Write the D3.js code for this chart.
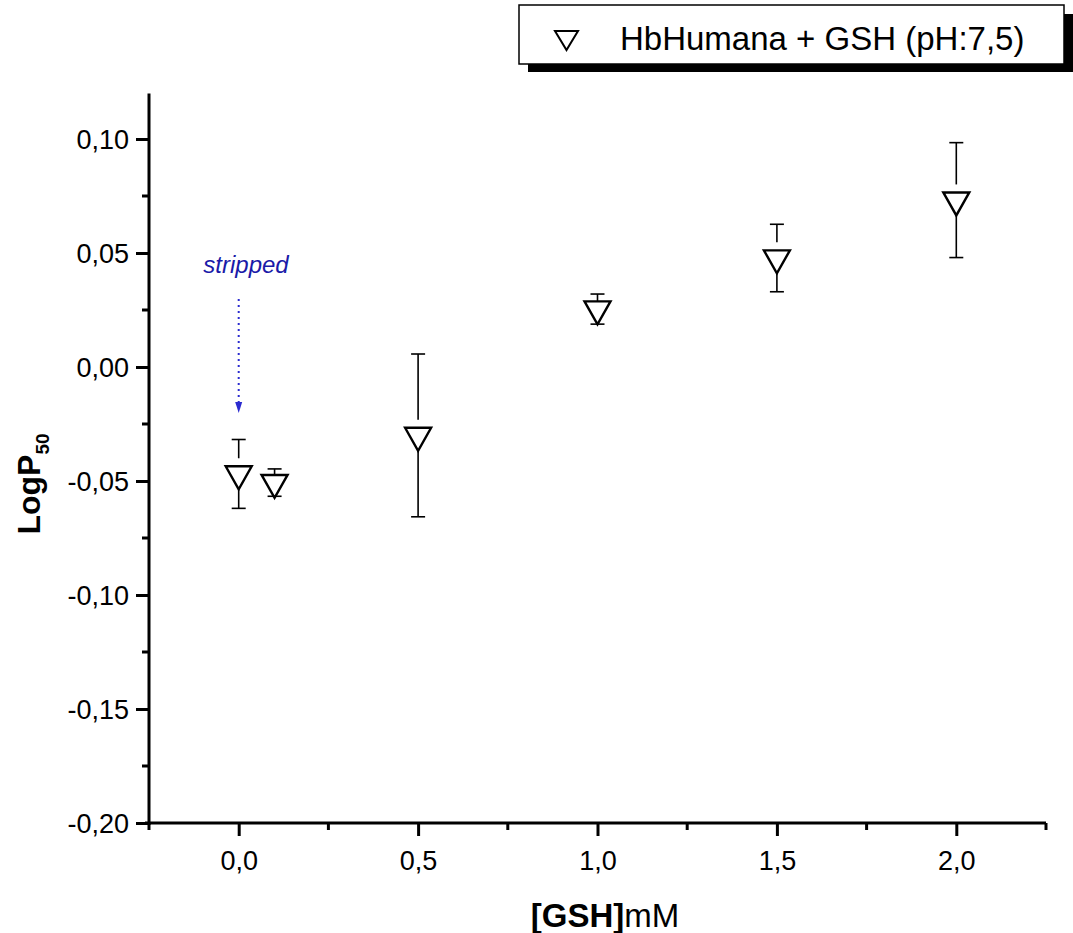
<!DOCTYPE html>
<html>
<head>
<meta charset="utf-8">
<script src="https://cdn.jsdelivr.net/npm/d3@7"></script>
<style>
  html, body { margin: 0; padding: 0; background: #fff; }
  svg { display: block; font-family: "Liberation Sans", Arial, sans-serif; }
</style>
</head>
<body>
<svg id="chart" width="1073" height="933"></svg>
<script>
// ---- data ----
const gsh = [0.0, 0.1, 0.5, 1.0, 1.5, 2.0];           // [GSH] mM
const logP50 = [-0.0469, -0.0507, -0.030, 0.0254, 0.0478, 0.0732];
const errLogP50 = [0.0151, 0.0060, 0.0357, 0.0066, 0.0148, 0.0252];
const xTickValues = [0, 0.5, 1.0, 1.5, 2.0];
const yTickValues = [0.10, 0.05, 0.00, -0.05, -0.10, -0.15, -0.20];
const legendLabel = "HbHumana + GSH (pH:7,5)";
const annotationLabel = "stripped";

const fmt = d => d3.format(".2f")(d).replace(".", ",").replace("−", "-");
const fmtX = d => d3.format(".1f")(d).replace(".", ",");

const svg = d3.select("#chart");
const x = d3.scaleLinear().domain([-0.25, 2.25]).range([149, 1046]);
const y = d3.scaleLinear().domain([-0.20, 0.10]).range([823, 139]);
const yTop = 0.12;

// ---- axes ----
const axisW = 3;
// Y axis
const yAxisMajor = d3.axisLeft(y).tickValues(yTickValues).tickSize(13).tickPadding(7).tickFormat(fmt);
const yMinor = d3.range(-0.175, 0.12, 0.05);
const gy = svg.append("g").attr("transform", `translate(${x.range()[0]},0)`);
gy.call(yAxisMajor);
gy.select(".domain").remove();
gy.selectAll(".tick line").attr("stroke", "#000").attr("stroke-width", 3);
gy.selectAll(".tick text").attr("font-size", 27).attr("fill", "#000")
  .attr("font-family", "'Liberation Sans', Arial, sans-serif").attr("dy", "0.36em");
gy.selectAll(".minor").data(yMinor).enter().append("line")
  .attr("x1", -7).attr("x2", 0).attr("y1", d => y(d)).attr("y2", d => y(d))
  .attr("stroke", "#000").attr("stroke-width", 3);
gy.append("line").attr("x1", 0).attr("x2", 0).attr("y1", y(yTop)).attr("y2", y(-0.20) + 2)
  .attr("stroke", "#000").attr("stroke-width", axisW);

// X axis
const xAxisMajor = d3.axisBottom(x).tickValues(xTickValues).tickSize(13).tickPadding(15).tickFormat(fmtX);
const xMinor = [-0.25, 0.25, 0.75, 1.25, 1.75, 2.25];
const gx = svg.append("g").attr("transform", `translate(0,${y(-0.20)})`);
gx.call(xAxisMajor);
gx.select(".domain").remove();
gx.selectAll(".tick line").attr("stroke", "#000").attr("stroke-width", 3);
gx.selectAll(".tick text").attr("font-size", 27).attr("fill", "#000")
  .attr("font-family", "'Liberation Sans', Arial, sans-serif");
gx.selectAll(".minor").data(xMinor).enter().append("line")
  .attr("x1", d => x(d)).attr("x2", d => x(d)).attr("y1", 0).attr("y2", 7)
  .attr("stroke", "#000").attr("stroke-width", 3);
gx.append("line").attr("x1", x.range()[0] - 4).attr("x2", x.range()[1]).attr("y1", 0).attr("y2", 0)
  .attr("stroke", "#000").attr("stroke-width", axisW);

// ---- axis titles ----
const xt = svg.append("text").attr("x", 605).attr("y", 927).attr("text-anchor", "middle")
  .attr("font-size", 33).attr("fill", "#000");
xt.append("tspan").attr("font-weight", "bold").text("[GSH]");
xt.append("tspan").text("mM");

const yt = svg.append("text").attr("transform", "translate(40,484) rotate(-90)")
  .attr("text-anchor", "middle").attr("font-size", 32).attr("font-weight", "bold").attr("fill", "#000");
yt.append("tspan").text("LogP");
yt.append("tspan").attr("font-size", 19).attr("dy", 9).text("50");

// ---- annotation ----
svg.append("text").attr("x", 246).attr("y", 273).attr("text-anchor", "middle")
  .attr("font-size", 24).attr("font-style", "italic").attr("fill", "#1a1aa8").text(annotationLabel);
svg.append("line").attr("x1", x(0)).attr("x2", x(0)).attr("y1", 299).attr("y2", 404)
  .attr("stroke", "#2b2bd0").attr("stroke-width", 2).attr("stroke-dasharray", "2,4");
svg.append("path")
  .attr("d", `M${x(0) - 3.5},${402} L${x(0) + 3.5},${402} L${x(0)},${413} Z`)
  .attr("fill", "#2b2bd0");

// ---- data marks ----
const triW = 26, triH = 23;
const pts = gsh.map((g, i) => ({ x: g, v: logP50[i], e: errLogP50[i] }));
const marks = svg.append("g");
pts.forEach(d => {
  const cx = x(d.x), cy = y(d.v);
  const top = y(d.v + d.e), bot = y(d.v - d.e);
  const triTop = cy - triH / 3;
  const apex = cy + 2 * triH / 3;
  const gap = (triTop - top) > 12 ? 8 : 0;
  // upper error segment + cap
  marks.append("line").attr("x1", cx).attr("x2", cx).attr("y1", top).attr("y2", triTop - gap)
    .attr("stroke", "#000").attr("stroke-width", 1.6);
  marks.append("line").attr("x1", cx - 7).attr("x2", cx + 7).attr("y1", top).attr("y2", top)
    .attr("stroke", "#000").attr("stroke-width", 1.6);
  // lower error segment (from apex) + cap
  if (bot > apex) {
    marks.append("line").attr("x1", cx).attr("x2", cx).attr("y1", apex).attr("y2", bot)
      .attr("stroke", "#000").attr("stroke-width", 1.6);
  }
  marks.append("line").attr("x1", cx - 7).attr("x2", cx + 7).attr("y1", bot).attr("y2", bot)
    .attr("stroke", "#000").attr("stroke-width", 1.6);
  // triangle (centroid at data point)
  marks.append("path")
    .attr("d", `M${cx - triW / 2},${triTop} L${cx + triW / 2},${triTop} L${cx},${apex} Z`)
    .attr("fill", "none").attr("stroke", "#000").attr("stroke-width", 2.4).attr("stroke-linejoin", "miter");
});

// ---- legend ----
const lg = svg.append("g");
lg.append("rect").attr("x", 528).attr("y", 14).attr("width", 560).attr("height", 58).attr("fill", "#000");
lg.append("rect").attr("x", 519).attr("y", 5).attr("width", 545).attr("height", 59)
  .attr("fill", "#fff").attr("stroke", "#000").attr("stroke-width", 1.5);
lg.append("path").attr("d", `M555,31 L578,31 L566.5,50 Z`)
  .attr("fill", "none").attr("stroke", "#000").attr("stroke-width", 2);
lg.append("text").attr("x", 620).attr("y", 50).attr("font-size", 33).attr("fill", "#000").text(legendLabel);
</script>
</body>
</html>
